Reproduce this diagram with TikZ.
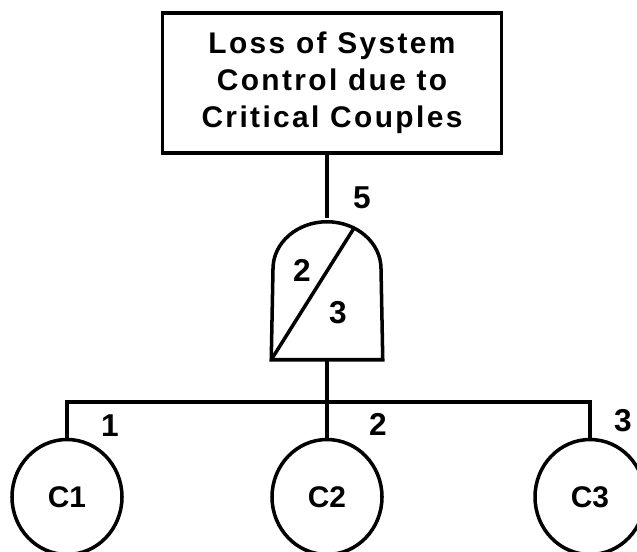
\documentclass[tikz,border=0pt]{standalone}
\usepackage{fontspec}
\setmainfont{Liberation Sans}
\newfontfamily\eventfont[LetterSpace=8]{Liberation Sans}
\usetikzlibrary{positioning,shapes.geometric}

\begin{document}
\begin{tikzpicture}[auto, node distance=4cm, line width=2pt,
  event/.style={rectangle, draw, minimum width=6.78cm, minimum height=2.8cm, align=center, font=\eventfont\bfseries\fontsize{17}{21}\selectfont},
  gate/.style={minimum width=2.16cm, minimum height=2.76cm, inner sep=0pt},
  basic/.style={ellipse, draw, minimum width=2.2cm, minimum height=2.3cm, inner sep=0pt, font=\bfseries\fontsize{17}{18}\selectfont},
  num/.style={inner sep=0pt, font=\bfseries\fontsize{18}{20}\selectfont}]
  \useasboundingbox (0,0) rectangle (12.74,-11.04);

  % Nodos
  \node[event] (top) at (6.64,-1.66) {Loss of System\\Control due to\\Critical Couples};
  \node[gate] (g) [below of=top, node distance=4.12cm, xshift=-0.10cm] {};
  \node[basic] (c2) [below of=g, node distance=4.16cm] {C2};
  \node[basic] (c1) [left of=c2, node distance=5.2cm] {C1};
  \node[basic] (c3) [right of=c2, node distance=5.26cm] {C3};

  % Puerta 2 de 3
  \coordinate (gc) at ([yshift=1.82cm]g.south);
  \draw (g.south west) -- ([xshift=-1.08cm]gc)
    arc[start angle=180, end angle=0, x radius=1.08cm, y radius=0.94cm]
    -- (g.south east) -- cycle;
  \draw (g.south west) -- ([shift={(60:1.08cm and 0.94cm)}]gc);

  % Aristas
  \draw (g.north) -- (g.north |- top.south);
  \draw (g.south) -- (c2.north);
  \coordinate (bus) at ([yshift=-0.84cm]g.south);
  \draw (c1.north) -- (c1.north |- bus) -- (c3.north |- bus) -- (c3.north);

  % Numeros
  \node[num] (n5) at ([shift={(0.70,0.40)}]g.north) {5};
  \node[num] (k) at ([shift={(-0.50,0.38)}]g.center) {2};
  \node[num] (n) at ([shift={(0.22,-0.48)}]g.center) {3};
  \node[num] (n1) at ([shift={(0.86,0.24)}]c1.north) {1};
  \node[num] (n2) at ([shift={(1.02,0.26)}]c2.north) {2};
  \node[num] (n3) at ([shift={(0.66,0.34)}]c3.north) {3};
\end{tikzpicture}
\end{document}
